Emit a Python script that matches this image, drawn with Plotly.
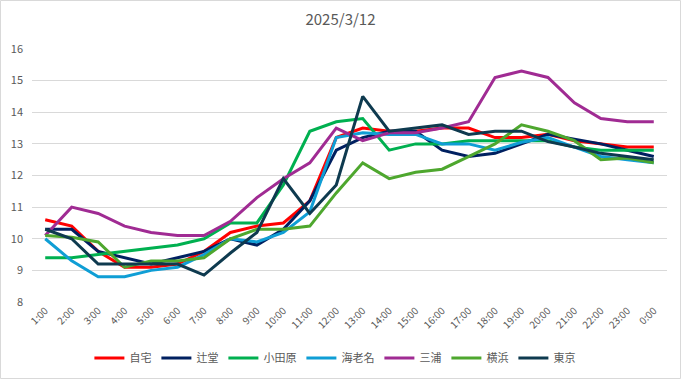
import plotly.graph_objects as go

hours = ["1:00", "2:00", "3:00", "4:00", "5:00", "6:00", "7:00", "8:00", "9:00", "10:00",
         "11:00", "12:00", "13:00", "14:00", "15:00", "16:00", "17:00", "18:00", "19:00",
         "20:00", "21:00", "22:00", "23:00", "0:00"]

jitaku = [10.6, 10.4, 9.6, 9.1, 9.1, 9.2, 9.6, 10.2, 10.4, 10.5, 11.2, 13.2, 13.5, 13.4,
          13.4, 13.5, 13.5, 13.2, 13.2, 13.3, 13.1, 13.0, 12.9, 12.9]
tsujido = [10.3, 10.3, 9.6, 9.4, 9.2, 9.4, 9.6, 10.0, 9.8, 10.3, 11.2, 12.8, 13.2, 13.4,
           13.4, 12.8, 12.6, 12.7, 13.0, 13.3, 13.15, 13.0, 12.8, 12.6]
odawara = [9.4, 9.4, 9.5, 9.6, 9.7, 9.8, 10.0, 10.5, 10.5, 11.7, 13.4, 13.7, 13.8, 12.8,
           13.0, 13.0, 13.1, 13.1, 13.1, 13.1, 12.9, 12.8, 12.8, 12.8]
ebina = [10.0, 9.3, 8.8, 8.8, 9.0, 9.1, 9.5, 10.0, 9.9, 10.2, 10.85, 13.2, 13.35, 13.3,
         13.3, 13.0, 13.0, 12.8, 13.05, 13.2, 12.9, 12.6, 12.5, 12.4]
miura = [10.1, 11.0, 10.8, 10.4, 10.2, 10.1, 10.1, 10.55, 11.3, 11.9, 12.4, 13.5, 13.1, 13.35,
         13.35, 13.5, 13.7, 15.1, 15.3, 15.1, 14.3, 13.8, 13.7, 13.7]
yokohama = [10.1, 10.05, 9.9, 9.1, 9.3, 9.3, 9.4, 10.0, 10.3, 10.3, 10.4, 11.45, 12.4, 11.9,
            12.1, 12.2, 12.6, 13.0, 13.6, 13.4, 13.1, 12.5, 12.55, 12.4]
tokyo = [10.3, 10.0, 9.2, 9.2, 9.2, 9.2, 8.85, 9.55, 10.2, 11.9, 10.8, 11.7, 14.5, 13.4,
         13.5, 13.6, 13.3, 13.4, 13.4, 13.07, 12.9, 12.7, 12.6, 12.5]

series = [
    ("自宅", jitaku, "#FF0000"),
    ("辻堂", tsujido, "#002060"),
    ("小田原", odawara, "#00B050"),
    ("海老名", ebina, "#0F9ED5"),
    ("三浦", miura, "#A02B93"),
    ("横浜", yokohama, "#4EA72E"),
    ("東京", tokyo, "#0E3A4F"),
]

fig = go.Figure()
for name, vals, color in series:
    fig.add_trace(go.Scatter(x=hours, y=vals, name=name, mode="lines",
                             line=dict(color=color, width=3)))

font_family = "Noto Sans CJK JP, Liberation Sans, sans-serif"
fig.update_layout(
    width=681, height=379,
    margin=dict(l=32, r=14, t=49, b=77, autoexpand=False),
    paper_bgcolor="white", plot_bgcolor="white",
    font=dict(family=font_family, color="#595959", size=11),
    title=dict(text="2025/3/12", x=0.5, xanchor="center", y=0.948, yanchor="middle",
               font=dict(size=15, color="#595959")),
    xaxis=dict(type="category", range=[-0.5, 23.5], tickangle=-45, showgrid=False,
               showline=False, ticks="", automargin=False,
               tickfont=dict(size=10, color="#595959")),
    yaxis=dict(range=[8, 16], dtick=1, showgrid=True, gridcolor="#D9D9D9", gridwidth=1,
               zeroline=False, showline=False, ticks="", automargin=False,
               ticklabelstandoff=8, tickfont=dict(size=11, color="#595959")),
    legend=dict(orientation="h", x=0.477, xanchor="center", y=-0.221, yanchor="middle",
                font=dict(size=11, color="#595959"), itemwidth=30, tracegroupgap=0),
    showlegend=True,
    shapes=[dict(type="rect", xref="paper", yref="paper",
                 x0=-31.5/635, x1=(635+13.5)/635, y0=-76.5/253, y1=(253+48.5)/253,
                 line=dict(color="#D9D9D9", width=1), fillcolor="rgba(0,0,0,0)", layer="below")],
)

fig.write_html("out.html", config={"displayModeBar": False},
               post_script="document.body.style.margin='0';")
